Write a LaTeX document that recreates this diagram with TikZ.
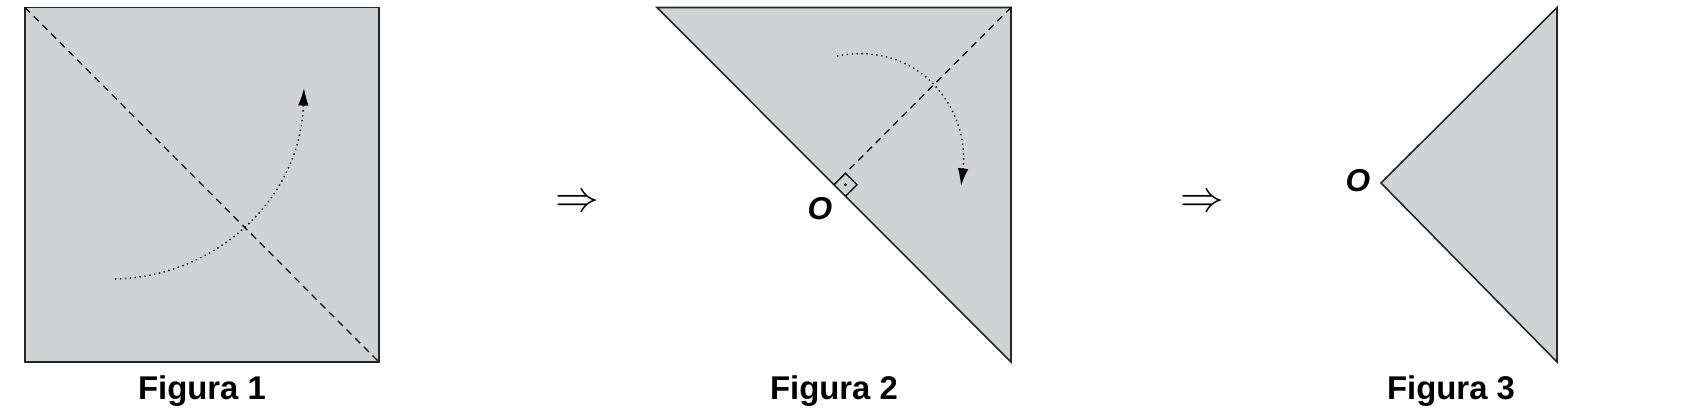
\documentclass[tikz,border=0pt]{standalone}
\usepackage{fontspec}
\setmainfont{Liberation Sans}
\usepackage{amssymb}
\usetikzlibrary{arrows.meta}
\definecolor{paper}{HTML}{D1D2D4}
\begin{document}
\begin{tikzpicture}[x=0.02cm,y=-0.02cm,
  sheet/.style={draw=black!85,fill=paper,line width=0.9pt,line join=miter},
  fold/.style={line width=0.7pt,dash pattern=on 4pt off 3pt},
  move/.style={dotted,line width=0.8pt,-{Latex[length=10pt,width=6pt]}},
  lab/.style={font=\fontsize{18.7}{20}\selectfont\bfseries},
  olab/.style={font=\fontsize{18}{20}\selectfont\bfseries\itshape},
  impl/.style={font=\fontsize{40}{42}\selectfont}]
\useasboundingbox (0,0) rectangle (1681,411);
% Figure 1
\coordinate (s1) at (25,7.5); \coordinate (s2) at (379,7.5);
\coordinate (s3) at (379,362); \coordinate (s4) at (25,362);
\draw[sheet] (s1) -- (s2) -- (s3) -- (s4) -- cycle;
\draw[fold] (s1) -- (s3);
\coordinate (a1) at (115,279); \coordinate (a2) at (304,88);
\draw[move] (a1) .. controls (215,277) and (300,200) .. (a2);
\node[lab] (f1) at (202,391) {Figura 1};
\node[impl] (i1) at (577,203) {$\Rightarrow$};
% Figure 2
\coordinate (t1) at (657,7.5); \coordinate (t2) at (1011,7.5);
\coordinate (t3) at (1011,362); \coordinate (m) at (834,184.75);
\draw[sheet] (t1) -- (t2) -- (t3) -- cycle;
\draw[fold] (t2) -- (m);
\draw[line width=0.7pt] (m) -- ++(11.5,-11.5) -- ++(11.5,11.5) -- ++(-11.5,11.5);
\fill (m) ++(11.5,0) circle (1.6);
\coordinate (b1) at (837,56); \coordinate (b2) at (961,186);
\draw[move] (b1) .. controls (920,40) and (970,110) .. (b2);
\node[olab] (o2) at (820,209) {O};
\node[lab] (f2) at (834,391) {Figura 2};
\node[impl] (i2) at (1202,203) {$\Rightarrow$};
% Figure 3
\coordinate (u1) at (1381,183); \coordinate (u2) at (1557,7.5); \coordinate (u3) at (1557,362);
\draw[sheet] (u1) -- (u2) -- (u3) -- cycle;
\node[olab] (o3) at (1358,181) {O};
\node[lab] (f3) at (1451,391) {Figura 3};
\end{tikzpicture}
\end{document}
